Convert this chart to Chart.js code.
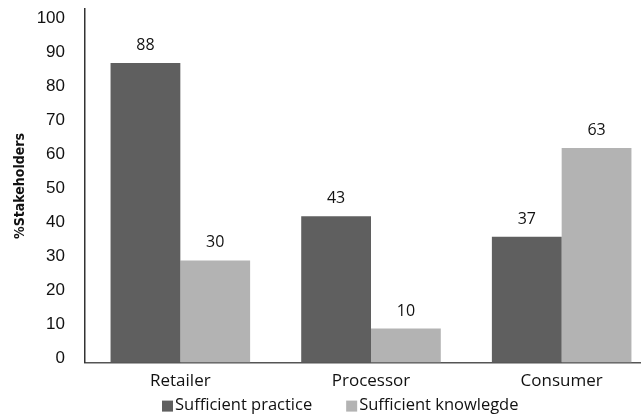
<!DOCTYPE html>
<html>
<head>
<meta charset="utf-8">
<script src="https://cdn.jsdelivr.net/npm/chart.js@4"></script>
<style>
html,body{margin:0;padding:0;background:#fff;overflow:hidden;}
#wrap{width:660px;height:437px;position:absolute;left:0;top:-21px;}
</style>
</head>
<body>
<div id="wrap"><canvas id="c"></canvas></div>
<script>
const categories = ["Retailer", "Processor", "Consumer"];
const practice = [88, 43, 37];
const knowledge = [30, 10, 63];
const seriesNames = ["Sufficient practice", "Sufficient knowlegde"];
const yTicks = [0, 10, 20, 30, 40, 50, 60, 70, 80, 90, 100];

const labelPlugin = {
  id: 'barLabels',
  afterDatasetsDraw(chart) {
    const ctx = chart.ctx;
    ctx.save();
    ctx.font = '16px "Open Sans"';
    ctx.fillStyle = '#111';
    ctx.textAlign = 'center';
    ctx.textBaseline = 'alphabetic';
    chart.data.datasets.forEach((ds, i) => {
      chart.getDatasetMeta(i).data.forEach((bar, j) => {
        ctx.fillText(String(ds.data[j]), bar.x, bar.y - 13);
      });
    });
    ctx.restore();
  }
};

const legendPlugin = {
  id: 'bottomLegend',
  afterDraw(chart) {
    const ctx = chart.ctx;
    const area = chart.chartArea;
    ctx.save();
    ctx.font = '16.5px "Open Sans"';
    ctx.textBaseline = 'middle';
    ctx.textAlign = 'left';
    let x = area.left + 77;
    const yc = area.bottom + 43;
    chart.data.datasets.forEach((ds) => {
      ctx.fillStyle = ds.backgroundColor;
      ctx.fillRect(x, yc - 5, 11, 11);
      ctx.fillStyle = '#111';
      ctx.fillText(ds.label, x + 13, yc);
      x += 13 + ctx.measureText(ds.label).width + 34;
    });
    ctx.restore();
  }
};

new Chart(document.getElementById('c'), {
  type: 'bar',
  data: {
    labels: categories,
    datasets: [
      { label: seriesNames[0], data: practice, backgroundColor: '#5f5f5f', borderWidth: 0, categoryPercentage: 0.732, barPercentage: 1.0 },
      { label: seriesNames[1], data: knowledge, backgroundColor: '#b3b3b3', borderWidth: 0, categoryPercentage: 0.732, barPercentage: 1.0 }
    ]
  },
  options: {
    responsive: true,
    maintainAspectRatio: false,
    animation: false,
    layout: { padding: { top: 8, right: 3, left: 10, bottom: 17 } },
    plugins: {
      legend: { display: false },
      tooltip: { enabled: false }
    },
    scales: {
      x: {
        grid: { display: false, drawTicks: false },
        border: { display: true, color: '#555', width: 1.5 },
        ticks: { font: { family: '"Open Sans"', size: 17 }, color: '#111', padding: 8 }
      },
      y: {
        min: 0,
        max: 103.8,
        afterBuildTicks(scale) { scale.ticks = yTicks.map(v => ({ value: v })); },
        afterFit(scale) { scale.width = 75; },
        grid: { display: false, drawTicks: false },
        border: { display: true, color: '#333', width: 1.5 },
        ticks: { font: { family: '"Liberation Sans"', size: 17 }, color: '#111', padding: 20, labelOffset: -4 },
        title: {
          display: true,
          text: '%Stakeholders',
          font: { family: '"DejaVu Sans Condensed", "DejaVu Sans"', size: 14, weight: 'bold' },
          color: '#111',
          padding: { top: 2, bottom: 4 }
        }
      }
    }
  },
  plugins: [labelPlugin, legendPlugin]
});
</script>
</body>
</html>
